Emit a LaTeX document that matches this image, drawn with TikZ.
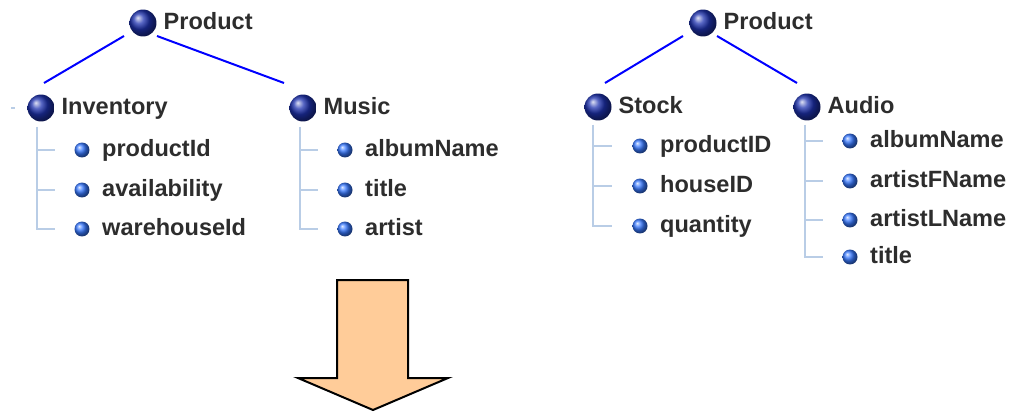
\documentclass[tikz,border=0pt]{standalone}
\usepackage{fontspec}
\setmainfont{Liberation Sans}
\usetikzlibrary{positioning,calc}
\definecolor{navyball}{RGB}{30,50,175}
\definecolor{leafball}{RGB}{55,120,255}
\definecolor{treegray}{RGB}{185,205,230}
\definecolor{labelgray}{RGB}{45,45,45}
\definecolor{peach}{RGB}{255,204,153}
\tikzset{
  bigball/.style={circle,inner sep=0,minimum size=0.54cm,ball color=navyball},
  leaf/.style={circle,inner sep=0,minimum size=0.30cm,ball color=leafball},
  lbl/.style={inner sep=0,text height=0.72em,text depth=0pt,text=labelgray,
    font=\fontsize{13.4}{15}\selectfont\bfseries},
  link/.style={blue,line width=0.04cm},
  branch/.style={treegray,line width=0.03cm}
}
\begin{document}
\begin{tikzpicture}[x=0.02cm,y=-0.02cm]
  \useasboundingbox (0,0) rectangle (1011,412);
  % left schema
  \node[bigball] (p1) at (143,23) {};
  \node[lbl,right=0.13cm of p1] {Product};
  \node[bigball] (inv) at (41,108) {};
  \node[lbl,right=0.13cm of inv] {Inventory};
  \node[bigball] (mus) at (303,108) {};
  \node[lbl,right=0.13cm of mus] {Music};
  \node[leaf] (pid) at (82,150) {};  \node[lbl,right=0.24cm of pid] {productId};
  \node[leaf] (avl) at (82,190) {};  \node[lbl,right=0.24cm of avl] {availability};
  \node[leaf] (whs) at (82,229) {};  \node[lbl,right=0.24cm of whs] {warehouseId};
  \node[leaf] (alb) at (345,150) {}; \node[lbl,right=0.24cm of alb] {albumName};
  \node[leaf] (ttl) at (345,190) {}; \node[lbl,right=0.24cm of ttl] {title};
  \node[leaf] (art) at (345,229) {}; \node[lbl,right=0.24cm of art] {artist};
  \draw[link] ($(p1)+(-19,13)$) -- ($(inv)+(3,-25)$);
  \draw[link] ($(p1)+(14,13)$) -- ($(mus)+(-19,-25)$);
  \draw[branch] (11,108) -- (15,108);
  \foreach \c in {pid,avl,whs}
    \draw[branch] ($(inv)+(-4,19)$) |- ($(\c)+(-27,0)$);
  \foreach \c in {alb,ttl,art}
    \draw[branch] ($(mus)+(-3,19)$) |- ($(\c)+(-27,0)$);
  % right schema
  \node[bigball] (p2) at (703,23) {};
  \node[lbl,right=0.13cm of p2] {Product};
  \node[bigball] (stk) at (598,107) {};
  \node[lbl,right=0.13cm of stk] {Stock};
  \node[bigball] (aud) at (807,107) {};
  \node[lbl,right=0.13cm of aud] {Audio};
  \node[leaf] (pidb) at (640,146) {}; \node[lbl,right=0.24cm of pidb] {productID};
  \node[leaf] (hid) at (640,186) {};  \node[lbl,right=0.24cm of hid] {houseID};
  \node[leaf] (qty) at (640,226) {};  \node[lbl,right=0.24cm of qty] {quantity};
  \node[leaf] (albb) at (850,141) {}; \node[lbl,right=0.24cm of albb] {albumName};
  \node[leaf] (afn) at (850,181) {};  \node[lbl,right=0.24cm of afn] {artistFName};
  \node[leaf] (aln) at (850,220) {};  \node[lbl,right=0.24cm of aln] {artistLName};
  \node[leaf] (ttlb) at (850,257) {}; \node[lbl,right=0.24cm of ttlb] {title};
  \draw[link] ($(p2)+(-20,13)$) -- ($(stk)+(7,-24)$);
  \draw[link] ($(p2)+(14,13)$) -- ($(aud)+(-10,-24)$);
  \foreach \c in {pidb,hid,qty}
    \draw[branch] ($(stk)+(-5,18)$) |- ($(\c)+(-28,0)$);
  \foreach \c in {albb,afn,aln,ttlb}
    \draw[branch] ($(aud)+(-2,18)$) |- ($(\c)+(-27,0)$);
  % mapping arrow
  \draw[line width=0.04cm,fill=peach,line join=miter]
    (337,280) -- (408,280) -- (408,378) -- (448,378) -- (373,410)
    -- (298,378) -- (337,378) -- cycle;
\end{tikzpicture}
\end{document}
